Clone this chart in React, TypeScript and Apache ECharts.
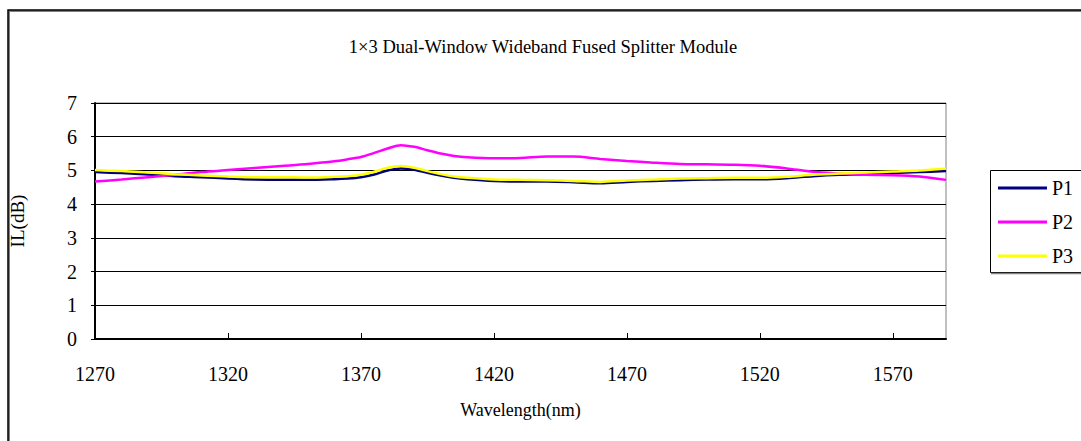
import React, { useEffect, useRef } from "react";
import * as echarts from "echarts";

const title = "1×3 Dual-Window Wideband Fused Splitter Module";
const xName = "Wavelength(nm)";
const yName = "IL(dB)";
const seriesNames = ["P1", "P2", "P3"];
const seriesColors = ["#000080", "#FF00FF", "#FFFF00"];

const wavelengths = [
  1270, 1280, 1290, 1300, 1310, 1320, 1330, 1340, 1350, 1360, 1365, 1370, 1375, 1380,
  1385, 1390, 1395, 1400, 1405, 1410, 1420, 1430, 1440, 1450, 1460, 1470, 1480, 1490,
  1500, 1510, 1520, 1530, 1540, 1550, 1560, 1570, 1580, 1590,
];

const p1 = [
  4.95, 4.92, 4.88, 4.83, 4.80, 4.76, 4.73, 4.72, 4.72, 4.74, 4.76, 4.80, 4.88, 5.00,
  5.06, 5.02, 4.93, 4.85, 4.78, 4.74, 4.69, 4.67, 4.67, 4.65, 4.62, 4.66, 4.69, 4.71,
  4.73, 4.74, 4.74, 4.77, 4.83, 4.87, 4.89, 4.92, 4.95, 4.98,
];

const p2 = [
  4.67, 4.73, 4.80, 4.87, 4.95, 5.01, 5.07, 5.13, 5.19, 5.27, 5.33, 5.40, 5.52, 5.65,
  5.75, 5.70, 5.60, 5.50, 5.43, 5.39, 5.36, 5.37, 5.41, 5.41, 5.34, 5.28, 5.23, 5.19,
  5.18, 5.17, 5.14, 5.06, 4.96, 4.91, 4.87, 4.86, 4.82, 4.72,
];

const p3 = [
  5.01, 4.98, 4.94, 4.89, 4.85, 4.82, 4.80, 4.80, 4.79, 4.81, 4.83, 4.87, 4.96, 5.08,
  5.13, 5.08, 4.98, 4.89, 4.82, 4.78, 4.73, 4.72, 4.71, 4.69, 4.66, 4.70, 4.73, 4.76,
  4.77, 4.78, 4.78, 4.81, 4.87, 4.91, 4.94, 4.97, 5.00, 5.06,
];

const xMin = 1270;
const xMax = 1590;
const xStep = 50;
const yMin = 0;
const yMax = 7;
const yStep = 1;

const FONT = "Times New Roman, Liberation Serif, DejaVu Serif, serif";

export default function App() {
  const ref = useRef<HTMLDivElement>(null);

  useEffect(() => {
    document.body.style.margin = "0";
    if (!ref.current) return;
    const chart = echarts.init(ref.current, null, { renderer: "svg" });
    const values = [p1, p2, p3];
    chart.setOption({
      animation: false,
      backgroundColor: "#ffffff",
      textStyle: { fontFamily: FONT },
      title: {
        text: title,
        left: 538,
        textAlign: "center",
        top: 32,
        textStyle: { fontFamily: FONT, fontSize: 18.5, fontWeight: "normal", color: "#000" },
      },
      grid: {
        left: 94,
        top: 103,
        right: 135,
        bottom: 102,
        show: true,
        borderColor: "#808080",
        borderWidth: 1,
        backgroundColor: "transparent",
      },
      legend: {
        orient: "vertical",
        left: 998,
        top: 178,
        padding: 0,
        itemGap: 14,
        itemWidth: 49,
        itemHeight: 3,
        icon: "rect",
        textStyle: { fontFamily: FONT, fontSize: 20, color: "#000", lineHeight: 20 },
        data: seriesNames,
      },
      graphic: [
        {
          type: "rect",
          shape: { x: 9, y: 11, width: 1100, height: 500 },
          style: { fill: "none", stroke: "#808080", lineWidth: 2 },
          silent: true,
        },
        {
          type: "rect",
          shape: { x: 8, y: 10, width: 1100, height: 500 },
          style: { fill: "none", stroke: "#000", lineWidth: 1.5 },
          silent: true,
        },
        {
          type: "rect",
          shape: { x: 990.5, y: 170.5, width: 120, height: 102 },
          style: { fill: "none", stroke: "#000", lineWidth: 1 },
          silent: true,
        },
        {
          type: "line",
          shape: { x1: 991, y1: 273.5, x2: 1090, y2: 273.5 },
          style: { stroke: "#808080", lineWidth: 1.5 },
          silent: true,
        },
      ],
      xAxis: {
        type: "value",
        min: xMin,
        max: xMax,
        interval: xStep,
        name: xName,
        nameLocation: "middle",
        nameGap: 62,
        nameTextStyle: { fontFamily: FONT, fontSize: 18, color: "#000" },
        axisLine: { show: true, lineStyle: { color: "#000", width: 2 } },
        axisTick: { show: true, inside: true, length: 6, lineStyle: { color: "#000" } },
        axisLabel: {
          fontFamily: FONT,
          fontSize: 20,
          color: "#000",
          margin: 25,
          showMaxLabel: false,
          formatter: (v: number) => String(v),
        },
        splitLine: { show: false },
      },
      yAxis: {
        type: "value",
        min: yMin,
        max: yMax,
        interval: yStep,
        name: yName,
        nameLocation: "middle",
        nameGap: 68,
        nameRotate: 90,
        nameTextStyle: { fontFamily: FONT, fontSize: 19, color: "#000" },
        axisLine: { show: true, lineStyle: { color: "#000", width: 2 } },
        axisTick: { show: true, inside: false, length: 4, lineStyle: { color: "#000" } },
        axisLabel: { fontFamily: FONT, fontSize: 20, color: "#000", margin: 18 },
        splitLine: { show: true, lineStyle: { color: "#000", width: 1 } },
      },
      series: seriesNames.map((name, i) => ({
        name,
        type: "line",
        data: wavelengths.map((w, j) => [w, values[i][j]]),
        symbol: "none",
        smooth: 0.3,
        lineStyle: { color: seriesColors[i], width: 2.5 },
        itemStyle: { color: seriesColors[i] },
      })),
    });
    return () => chart.dispose();
  }, []);

  return <div ref={ref} style={{ width: 1081, height: 441 }} />;
}
